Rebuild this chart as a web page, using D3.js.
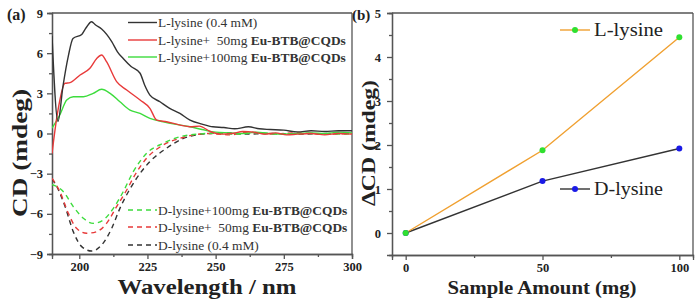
<!DOCTYPE html>
<html><head><meta charset="utf-8">
<script src="https://cdn.jsdelivr.net/npm/d3@7"></script>
<style>body{margin:0;background:#fff}svg{display:block}text{font-family:"Liberation Serif","Times New Roman",serif}</style>
</head><body>
<svg id="c" width="700" height="304"></svg>
<script>
// ---- Panel (a) data: [wavelength nm, CD mdeg]
const lLys = [[190,7.3],[192.2,0.9],[194,3.5],[196,5.8],[197.7,7.1],[200.9,7.4],[202.5,7.9],[204.5,8.35],[206,8.1],[208.2,7.8],[211.9,6.86],[214,6.1],[216.1,5.6],[219,5.0],[222.3,4.5],[224,3.6],[225.9,2.87],[229.6,2.37],[233,1.9],[236.9,1.5],[240.6,1.0],[245,0.7],[249,0.5],[253,0.45],[257,0.35],[262,0.5],[266,0.35],[270,0.3],[275,0.25],[280,0.12],[285,0.2],[290,0.15],[295,0.2],[300,0.2]];
const lLys50 = [[190,-1.5],[192,1.5],[194.8,3.75],[196.6,3.8],[200.3,4.37],[203.9,4.87],[206.4,5.6],[208.2,5.86],[210,5.36],[213.7,3.87],[217.4,3.25],[222.3,2.5],[225.9,1.88],[228.4,1.0],[232,0.88],[237,0.63],[240.6,0.5],[244,0.55],[248,0.15],[252,-0.05],[256,0.0],[260,0.15],[264,0.1],[268,-0.05],[272,0.05],[276,-0.1],[280,-0.05],[285,0.0],[290,-0.1],[295,0.0],[300,-0.05]];
const lLys100 = [[190,0.4],[192.9,1.4],[195.4,2.5],[197.8,2.75],[201.5,2.75],[205.1,3.0],[208.2,3.3],[211.3,3.0],[214.9,2.37],[218.6,1.75],[222.3,1.5],[225.9,1.13],[230.8,0.88],[235,0.7],[240.6,0.5],[245,0.3],[250,0.1],[255,0.05],[260,0.0],[265,0.1],[270,0.0],[275,-0.05],[280,0.0],[285,0.05],[290,0.0],[295,0.1],[300,0.05]];
const dLys = [[190,-3.4],[191.1,-3.72],[194.8,-5.46],[197.8,-7.33],[200.9,-8.45],[204.5,-8.78],[208.2,-8.33],[211.9,-7.08],[214.9,-5.59],[218,-4.35],[221,-3.35],[225.9,-2.1],[232,-1.1],[238.2,-0.36],[243,-0.1],[248,0],[255,0.05],[260,-0.05],[270,0],[280,-0.05],[290,0.0],[300,0.05]];
const dLys50 = [[190,-3.35],[192.9,-4.35],[196,-5.96],[199,-7.08],[202.7,-7.45],[206.4,-7.33],[210,-6.71],[213.7,-5.46],[217.4,-4.22],[220.4,-3.1],[224.7,-1.85],[230.8,-0.86],[236.9,-0.36],[242,-0.1],[248,0],[255,-0.1],[262,0.1],[270,-0.05],[280,0.05],[290,-0.05],[300,0]];
const dLys100 = [[190,-3.8],[194.2,-4.35],[197.8,-5.46],[201.5,-6.33],[205.1,-6.71],[208.8,-6.46],[212.5,-5.59],[216.1,-4.35],[219.8,-2.85],[224.7,-1.48],[230.8,-0.73],[237,-0.24],[243,-0.05],[250,0.02],[258,-0.05],[265,0.05],[275,-0.05],[285,0.0],[295,-0.05],[300,0]];
const aXTicks = [200,225,250,275,300];
const aYTicks = [-9,-6,-3,0,3,6,9];
const aLegendTop = ["L-lysine (0.4 mM)","L-lysine+\u00A0\u00A050mg ","L-lysine+100mg "];
const aLegendBot = ["D-lysine+100mg ","D-lysine+\u00A0\u00A050mg ","D-lysine (0.4 mM)"];
// ---- Panel (b) data
const amounts = [0,50,100];
const lDelta = [0,1.88,4.45];
const dDelta = [0,1.18,1.92];
const bXTicks = [0,50,100];
const bYTicks = [0,1,2,3,4,5];

const svg = d3.select("#c");
const axisCol = "#555";
const cBlack="#333", cRed="#e83a3a", cGreen="#3ddc3d";
const fmt = d3.format("d");

function styleAxis(g){g.selectAll("path,line").attr("stroke",axisCol).attr("stroke-width",1.3);
  g.selectAll("text").attr("font-weight","bold").attr("font-size",12.5).attr("fill","#222");}

// ===== Panel a =====
const ax = d3.scaleLinear().domain([190,300]).range([52,352]);
const ay = d3.scaleLinear().domain([-9,9]).range([254,13]);
const ga = svg.append("g");
ga.append("g").attr("transform","translate(0,254)").call(d3.axisBottom(ax).tickValues(d3.range(200,301,12.5).filter(v=>v%25!==0)).tickSize(3).tickFormat("")).call(styleAxis);
ga.append("g").attr("transform","translate(52,0)").call(d3.axisLeft(ay).tickValues(d3.range(-7.5,9,3)).tickSize(3).tickFormat("")).call(styleAxis);
ga.append("g").attr("transform","translate(0,254)").call(d3.axisBottom(ax).tickValues(aXTicks).tickFormat(fmt).tickSize(5).tickPadding(3)).call(styleAxis);
ga.append("g").attr("transform","translate(52,0)").call(d3.axisLeft(ay).tickValues(aYTicks).tickFormat(fmt).tickSize(5).tickPadding(4)).call(styleAxis);
ga.append("line").attr("x1",52).attr("x2",352).attr("y1",13).attr("y2",13).attr("stroke",axisCol).attr("stroke-width",1.3);
ga.append("line").attr("x1",352).attr("x2",352).attr("y1",13).attr("y2",254).attr("stroke",axisCol).attr("stroke-width",1.3);

const lineA = d3.line().x(d=>ax(d[0])).y(d=>ay(d[1])).curve(d3.curveMonotoneX);
svg.append("clipPath").attr("id","ca").append("rect").attr("x",52).attr("y",13).attr("width",300).attr("height",241);
const series = [
 {d:dLys,c:cBlack,dash:true},{d:dLys50,c:cRed,dash:true},{d:dLys100,c:cGreen,dash:true},
 {d:lLys100,c:cGreen},{d:lLys50,c:cRed},{d:lLys,c:cBlack}];
series.forEach(s=>{
  ga.append("path").datum(s.d).attr("d",lineA).attr("fill","none").attr("stroke",s.c)
    .attr("stroke-width",1.4).attr("clip-path","url(#ca)").attr("stroke-dasharray",s.dash?"5,4":null);
});
const topCols=[cBlack,cRed,cGreen], topY=[22.5,40,57];
aLegendTop.forEach((t,i)=>{
  ga.append("line").attr("x1",128).attr("x2",157).attr("y1",topY[i]).attr("y2",topY[i]).attr("stroke",topCols[i]).attr("stroke-width",1.4);
  const tx=ga.append("text").attr("x",158).attr("y",topY[i]+4.5).attr("font-size",13.4).attr("fill","#333");
  tx.append("tspan").text(t);
  if(i>0) tx.append("tspan").attr("font-weight","bold").text("Eu-BTB@CQDs");
});
const botCols=[cGreen,cRed,cBlack], botY=[210,227,245];
aLegendBot.forEach((t,i)=>{
  ga.append("line").attr("x1",128).attr("x2",157).attr("y1",botY[i]).attr("y2",botY[i]).attr("stroke",botCols[i]).attr("stroke-width",1.4).attr("stroke-dasharray","5,4");
  const tx=ga.append("text").attr("x",158).attr("y",botY[i]+4.5).attr("font-size",13.4).attr("fill","#333");
  tx.append("tspan").text(t);
  if(i<2) tx.append("tspan").attr("font-weight","bold").text("Eu-BTB@CQDs");
});
ga.append("text").attr("x",7).attr("y",20).attr("font-size",16).attr("font-weight","bold").attr("fill","#222").text("(a)");
ga.append("text").attr("transform","translate(27,153) rotate(-90)").attr("text-anchor","middle").attr("font-size",20).attr("font-weight","bold").attr("fill","#222")
  .attr("textLength",128).attr("lengthAdjust","spacingAndGlyphs").text("CD (mdeg)");
ga.append("text").attr("x",207).attr("y",294).attr("text-anchor","middle").attr("font-size",22).attr("font-weight","bold").attr("fill","#222")
  .attr("textLength",179).attr("lengthAdjust","spacingAndGlyphs").text("Wavelength / nm");

// ===== Panel b =====
const bx = d3.scaleLinear().domain([-5,105]).range([392,693]);
const by = d3.scaleLinear().domain([-0.5,5]).range([255,13]);
const gb = svg.append("g");
gb.append("g").attr("transform","translate(0,255)").call(d3.axisBottom(bx).tickValues([25,75]).tickSize(3).tickFormat("")).call(styleAxis);
gb.append("g").attr("transform","translate(392,0)").call(d3.axisLeft(by).tickValues(d3.range(0.5,5,1)).tickSize(3).tickFormat("")).call(styleAxis);
gb.append("g").attr("transform","translate(0,255)").call(d3.axisBottom(bx).tickValues(bXTicks).tickFormat(fmt).tickSize(5).tickPadding(3)).call(styleAxis);
gb.append("g").attr("transform","translate(392,0)").call(d3.axisLeft(by).tickValues(bYTicks).tickFormat(fmt).tickSize(5).tickPadding(6)).call(styleAxis);
gb.append("line").attr("x1",392).attr("x2",693).attr("y1",13).attr("y2",13).attr("stroke",axisCol).attr("stroke-width",1.3);
gb.append("line").attr("x1",693).attr("x2",693).attr("y1",13).attr("y2",255).attr("stroke",axisCol).attr("stroke-width",1.3);

const lineB = d3.line().x((d,i)=>bx(amounts[i])).y(d=>by(d));
const bSeries=[{v:dDelta,lc:"#333",mc:"#1a1ae6",name:"D-lysine",ly:189},{v:lDelta,lc:"#f0a030",mc:"#2fe02f",name:"L-lysine",ly:30}];
bSeries.forEach(s=>{
  gb.append("path").datum(s.v).attr("d",lineB).attr("fill","none").attr("stroke",s.lc).attr("stroke-width",1.4);
});
bSeries.forEach(s=>{
  gb.selectAll(null).data(s.v).enter().append("circle").attr("cx",(d,i)=>bx(amounts[i])).attr("cy",d=>by(d)).attr("r",3).attr("fill",s.mc);
  gb.append("line").attr("x1",560).attr("x2",590).attr("y1",s.ly).attr("y2",s.ly).attr("stroke",s.lc).attr("stroke-width",1.4);
  gb.append("circle").attr("cx",575).attr("cy",s.ly).attr("r",3).attr("fill",s.mc);
  gb.append("text").attr("x",594).attr("y",s.ly+6).attr("font-size",18).attr("fill","#222")
    .attr("textLength",69).attr("lengthAdjust","spacingAndGlyphs").text(s.name);
});
gb.append("text").attr("x",352).attr("y",20).attr("font-size",15).attr("font-weight","bold").attr("fill","#222").text("(b)");
gb.append("text").attr("transform","translate(375,143) rotate(-90)").attr("text-anchor","middle").attr("font-size",19).attr("font-weight","bold").attr("fill","#222")
  .attr("textLength",126).attr("lengthAdjust","spacingAndGlyphs").text("\u0394CD (mdeg)");
gb.append("text").attr("x",542).attr("y",294).attr("text-anchor","middle").attr("font-size",19).attr("font-weight","bold").attr("fill","#222")
  .attr("textLength",189).attr("lengthAdjust","spacingAndGlyphs").text("Sample Amount (mg)");
</script>
</body></html>
